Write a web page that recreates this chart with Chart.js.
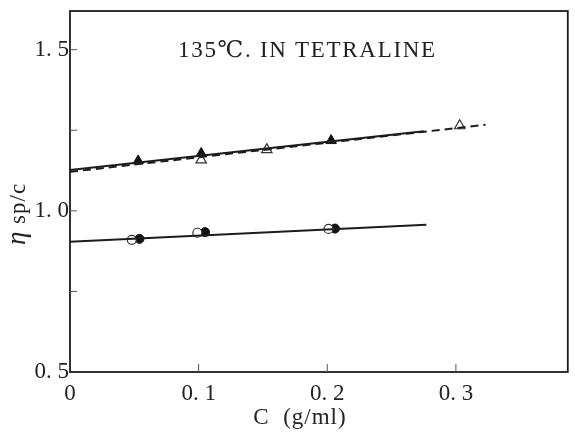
<!DOCTYPE html>
<html>
<head>
<meta charset="utf-8">
<script src="https://cdn.jsdelivr.net/npm/chart.js@4"></script>
<style>
html, body { margin: 0; padding: 0; background: #fff; }
</style>
</head>
<body>
<canvas id="chart" width="575" height="434"></canvas>
<script>
// concentration C (g/ml) and eta sp/c
const filledTriC = [0.053, 0.102, 0.203];
const filledTriV = [1.155, 1.178, 1.218];
const openTriC = [0.102, 0.153, 0.303];
const openTriV = [1.158, 1.19, 1.264];
const openCircC = [0.048, 0.099, 0.201];
const openCircV = [0.91, 0.932, 0.944];
const filledCircC = [0.054, 0.105, 0.206];
const filledCircV = [0.913, 0.934, 0.945];

// fitted lines (end points)
const solidTriLineC = [0, 0.275];
const solidTriLineV = [1.127, 1.247];
const dashTriLineC = [0, 0.323];
const dashTriLineV = [1.121, 1.267];
const circLineC = [0, 0.277];
const circLineV = [0.904, 0.957];

const xTickValues = [0, 0.1, 0.2, 0.3];
const xTickLabels = ['0', '0. 1', '0. 2', '0. 3'];
const yTickValues = [0.5, 1.0, 1.5];
const yTickLabels = ['0. 5', '1. 0', '1. 5'];

const titleText = '135\u2103. IN TETRALINE';
const xTitle = 'C  (g/ml)';

const ink = '#1c1c1c';
const serif = '"Liberation Serif", "DejaVu Serif", serif';

function pts(xs, ys) {
    return xs.map((x, i) => ({ x: x, y: ys[i] }));
}

function findLabel(v, values, labels) {
    for (let i = 0; i < values.length; i++) {
        if (Math.abs(v - values[i]) < 1e-6) return labels[i];
    }
    return '';
}

const framePlugin = {
    id: 'frame',
    beforeDatasetsDraw(chart) {
        const ctx = chart.ctx;
        const a = chart.chartArea;
        const xs = chart.scales.x;
        const ys = chart.scales.y;
        ctx.save();
        ctx.strokeStyle = ink;
        ctx.lineWidth = 1.8;
        ctx.strokeRect(a.left, a.top, a.right - a.left, a.bottom - a.top);

        // inward ticks
        ctx.lineWidth = 1;
        ctx.strokeStyle = '#555';
        ys.ticks.forEach(t => {
            if (t.value <= 0.5 || t.value > 1.55) return;
            const py = ys.getPixelForValue(t.value);
            ctx.beginPath();
            ctx.moveTo(a.left, py);
            ctx.lineTo(a.left + 7, py);
            ctx.stroke();
        });
        xs.ticks.forEach(t => {
            if (t.value <= 0 || t.value > 0.35) return;
            const px = xs.getPixelForValue(t.value);
            ctx.beginPath();
            ctx.moveTo(px, a.bottom);
            ctx.lineTo(px, a.bottom - 8);
            ctx.stroke();
        });
        ctx.restore();
    },
    afterDraw(chart) {
        const ctx = chart.ctx;
        ctx.save();
        ctx.fillStyle = '#222';
        ctx.textBaseline = 'alphabetic';

        // annotation
        ctx.font = '23px ' + serif;
        ctx.letterSpacing = '1.7px';
        ctx.textAlign = 'left';
        ctx.fillText(titleText, 178, 57);

        // x title
        ctx.letterSpacing = '1px';
        ctx.textAlign = 'center';
        ctx.fillText(xTitle, 300, 424);

        // y title
        ctx.translate(25, 214);
        ctx.rotate(-Math.PI / 2);
        ctx.letterSpacing = '1px';
        const eta = '\u03B7';
        const rest = ' sp/c';
        ctx.font = '23px ' + serif;
        const wRest = ctx.measureText(rest).width;
        ctx.font = 'italic 27px ' + serif;
        const wEta = ctx.measureText(eta).width;
        const total = wEta + wRest;
        ctx.textAlign = 'left';
        ctx.fillText(eta, -total / 2, 0);
        ctx.font = '23px ' + serif;
        ctx.fillText(rest, -total / 2 + wEta, 0);
        ctx.restore();
    }
};

const config = {
    type: 'scatter',
    data: {
        datasets: [
            {
                data: pts(solidTriLineC, solidTriLineV),
                showLine: true, pointRadius: 0,
                borderColor: ink, borderWidth: 2
            },
            {
                data: pts(dashTriLineC, dashTriLineV),
                showLine: true, pointRadius: 0,
                borderColor: ink, borderWidth: 2, borderDash: [8, 5]
            },
            {
                data: pts(circLineC, circLineV),
                showLine: true, pointRadius: 0,
                borderColor: ink, borderWidth: 2
            },
            {
                data: pts(openTriC, openTriV),
                pointStyle: 'triangle', pointRadius: 6,
                backgroundColor: '#fff', borderColor: '#333', borderWidth: 1.2
            },
            {
                data: pts(filledTriC, filledTriV),
                pointStyle: 'triangle', pointRadius: 6,
                backgroundColor: '#111', borderColor: '#111', borderWidth: 1
            },
            {
                data: pts(openCircC, openCircV),
                pointStyle: 'circle', pointRadius: 4.5,
                backgroundColor: '#fff', borderColor: '#333', borderWidth: 1.2
            },
            {
                data: pts(filledCircC, filledCircV),
                pointStyle: 'circle', pointRadius: 4.5,
                backgroundColor: '#111', borderColor: '#111', borderWidth: 1
            }
        ]
    },
    options: {
        responsive: false,
        animation: false,
        layout: { padding: { left: 0, right: 2, top: 11, bottom: 0 } },
        plugins: {
            legend: { display: false },
            tooltip: { enabled: false }
        },
        scales: {
            x: {
                type: 'linear',
                min: 0,
                max: 0.387,
                grid: { display: false, drawTicks: false },
                border: { display: false },
                ticks: {
                    stepSize: 0.1,
                    autoSkip: false,
                    maxRotation: 0,
                    padding: 8,
                    color: '#222',
                    font: { family: serif, size: 23 },
                    callback: v => findLabel(v, xTickValues, xTickLabels)
                },
                afterFit: scale => {
                    scale.height = 62;
                    scale.paddingLeft = 0;
                    scale.paddingRight = 0;
                }
            },
            y: {
                type: 'linear',
                min: 0.5,
                max: 1.62,
                grid: { display: false, drawTicks: false },
                border: { display: false },
                ticks: {
                    stepSize: 0.25,
                    autoSkip: false,
                    padding: 1,
                    color: '#222',
                    font: { family: serif, size: 23 },
                    callback: v => findLabel(v, yTickValues, yTickLabels)
                },
                afterFit: scale => {
                    scale.width = 70;
                    scale.paddingTop = 0;
                    scale.paddingBottom = 0;
                }
            }
        }
    },
    plugins: [framePlugin]
};

new Chart(document.getElementById('chart'), config);
</script>
</body>
</html>
